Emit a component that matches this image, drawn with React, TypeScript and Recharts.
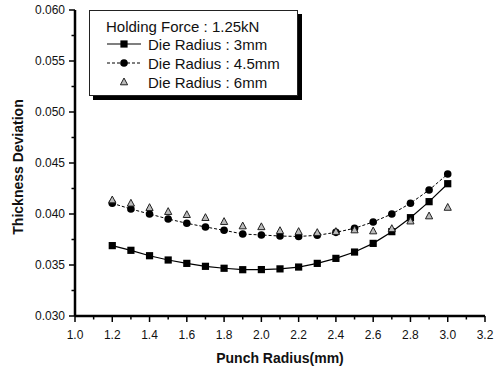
import React from 'react';
import { ComposedChart, Line, XAxis, YAxis, Legend, Label } from 'recharts';

const punchRadius = [1.2, 1.3, 1.4, 1.5, 1.6, 1.7, 1.8, 1.9, 2.0, 2.1, 2.2, 2.3, 2.4, 2.5, 2.6, 2.7, 2.8, 2.9, 3.0];
const dieRadius3 = [0.0369, 0.03644, 0.03591, 0.03549, 0.03516, 0.03487, 0.03468, 0.03454, 0.03455, 0.03462, 0.0348, 0.03516, 0.03565, 0.03627, 0.03712, 0.03827, 0.03964, 0.04121, 0.04297];
const dieRadius45 = [0.04105, 0.04049, 0.04, 0.03951, 0.03909, 0.03873, 0.0384, 0.03804, 0.03794, 0.03784, 0.0378, 0.03791, 0.0382, 0.0386, 0.03922, 0.04, 0.04105, 0.04235, 0.04392];
const dieRadius6 = [0.04137, 0.04105, 0.04062, 0.04023, 0.03993, 0.03964, 0.03925, 0.03882, 0.03874, 0.03836, 0.03827, 0.03817, 0.03827, 0.03843, 0.03833, 0.03856, 0.0393, 0.0398, 0.04064];

const xTicks = [1.0, 1.1, 1.2, 1.3, 1.4, 1.5, 1.6, 1.7, 1.8, 1.9, 2.0, 2.1, 2.2, 2.3, 2.4, 2.5, 2.6, 2.7, 2.8, 2.9, 3.0, 3.1, 3.2];
const yTicks = [0.03, 0.0325, 0.035, 0.0375, 0.04, 0.0425, 0.045, 0.0475, 0.05, 0.0525, 0.055, 0.0575, 0.06];

const legendTitle = 'Holding Force : 1.25kN';
const seriesNames = ['Die Radius : 3mm', 'Die Radius : 4.5mm', 'Die Radius : 6mm'];

const data = punchRadius.map((x, i) => ({
  x,
  a: dieRadius3[i],
  b: dieRadius45[i],
  c: dieRadius6[i],
}));

const FONT = '"Liberation Sans", Arial, Helvetica, sans-serif';

const XTick = (props: any) => {
  const { x, y, payload } = props;
  const v = payload.value;
  const major = Math.round(v * 10) % 2 === 0;
  return (
    <g>
      <line x1={x} x2={x} y1={y} y2={y + (major ? 6 : 3.5)} stroke="#000" strokeWidth={1.5} />
      {major && (
        <text x={x} y={y + 23} textAnchor="middle" fontSize={12} fontFamily={FONT} fill="#111">
          {v.toFixed(1)}
        </text>
      )}
    </g>
  );
};

const YTick = (props: any) => {
  const { x, y, payload } = props;
  const v = payload.value;
  const major = Math.round(v * 10000) % 50 === 0;
  return (
    <g>
      <line x1={x} x2={x - (major ? 6 : 3.5)} y1={y} y2={y} stroke="#000" strokeWidth={1.5} />
      {major && (
        <text x={x - 10} y={y + 4} textAnchor="end" fontSize={12} fontFamily={FONT} fill="#111">
          {v.toFixed(3)}
        </text>
      )}
    </g>
  );
};

const SquareDot = (props: any) => {
  const { cx, cy } = props;
  if (cx == null || cy == null) return null;
  return <rect x={cx - 3.6} y={cy - 3.6} width={7.2} height={7.2} fill="#000" />;
};

const CircleDot = (props: any) => {
  const { cx, cy } = props;
  if (cx == null || cy == null) return null;
  return <circle cx={cx} cy={cy} r={3.8} fill="#000" />;
};

const TriangleDot = (props: any) => {
  const { cx, cy } = props;
  if (cx == null || cy == null) return null;
  return (
    <polygon
      points={`${cx},${cy - 4} ${cx - 3.6},${cy + 2.8} ${cx + 3.6},${cy + 2.8}`}
      fill="#bbb"
      stroke="#222"
      strokeWidth={1}
    />
  );
};

const LegendContent = () => {
  const row = (top: number, sym: React.ReactNode, label: string) => (
    <div style={{ position: 'absolute', left: 16, top, height: 18, display: 'flex', alignItems: 'center' }}>
      <svg width={37} height={18} style={{ display: 'block' }}>{sym}</svg>
      <span style={{ marginLeft: 5, fontSize: 15, fontFamily: FONT, color: '#111', whiteSpace: 'nowrap' }}>{label}</span>
    </div>
  );
  return (
    <div
      style={{
        position: 'relative',
        width: 209,
        height: 86,
        boxSizing: 'border-box',
        border: '1px solid #222',
        background: '#fff',
        boxShadow: '4px 4px 0 #000',
      }}
    >
      <div style={{ position: 'absolute', left: 16, top: 7, fontSize: 15, fontFamily: FONT, color: '#111', whiteSpace: 'nowrap' }}>
        {legendTitle}
      </div>
      {row(24, (
        <g>
          <line x1={1} x2={35} y1={9} y2={9} stroke="#000" strokeWidth={1.2} />
          <rect x={14.4} y={5.4} width={7.2} height={7.2} fill="#000" />
        </g>
      ), seriesNames[0])}
      {row(43, (
        <g>
          <line x1={1} x2={35} y1={9} y2={9} stroke="#000" strokeWidth={1} strokeDasharray="3 2" />
          <circle cx={18} cy={9} r={3.8} fill="#000" />
        </g>
      ), seriesNames[1])}
      {row(62, (
        <g>
          <polygon points="18,5 14.4,11.8 21.6,11.8" fill="#bbb" stroke="#222" strokeWidth={1} />
        </g>
      ), seriesNames[2])}
    </div>
  );
};

const XTitle = (props: any) => {
  const vb = props.viewBox;
  return (
    <text x={vb.x + vb.width / 2} y={363} textAnchor="middle" fontSize={14} fontWeight="bold" fontFamily={FONT} fill="#111">
      Punch Radius(mm)
    </text>
  );
};

const YTitle = (props: any) => {
  const vb = props.viewBox;
  const cx = 23;
  const cy = vb.y + vb.height / 2 + 4;
  return (
    <text x={cx} y={cy} transform={`rotate(-90 ${cx} ${cy})`} textAnchor="middle" fontSize={14} fontWeight="bold" fontFamily={FONT} fill="#111">
      Thickness Deviation
    </text>
  );
};

export default function App() {
  return (
    <div style={{ position: 'absolute', left: 0, top: 0, width: 501, height: 370, background: '#fff' }}>
      <ComposedChart width={501} height={370} data={data} margin={{ top: 10, right: 16, bottom: 0, left: 0 }}>
        <XAxis
          type="number"
          dataKey="x"
          domain={[1.0, 3.2]}
          ticks={xTicks}
          interval={0}
          height={54}
          tickSize={0}
          tickMargin={0}
          tickLine={false}
          tick={<XTick />}
          axisLine={{ stroke: '#000', strokeWidth: 2.5 }}
        >
          <Label content={<XTitle />} />
        </XAxis>
        <YAxis
          type="number"
          domain={[0.03, 0.06]}
          ticks={yTicks}
          interval={0}
          width={75}
          tickSize={0}
          tickMargin={0}
          tickLine={false}
          tick={<YTick />}
          axisLine={{ stroke: '#000', strokeWidth: 2.5 }}
        >
          <Label content={<YTitle />} />
        </YAxis>
        <Legend
          layout="horizontal"
          verticalAlign="middle"
          align="center"
          content={<LegendContent />}
          wrapperStyle={{ position: 'absolute', top: 10, left: 89, width: 214, height: 90 }}
        />
        <Line
          dataKey="a"
          name={seriesNames[0]}
          type="linear"
          stroke="#000"
          strokeWidth={1.2}
          dot={<SquareDot />}
          activeDot={false}
          isAnimationActive={false}
        />
        <Line
          dataKey="b"
          name={seriesNames[1]}
          type="linear"
          stroke="#000"
          strokeWidth={1}
          strokeDasharray="3 2"
          dot={<CircleDot />}
          activeDot={false}
          isAnimationActive={false}
        />
        <Line
          dataKey="c"
          name={seriesNames[2]}
          type="linear"
          stroke="none"
          dot={<TriangleDot />}
          activeDot={false}
          isAnimationActive={false}
        />
      </ComposedChart>
    </div>
  );
}
